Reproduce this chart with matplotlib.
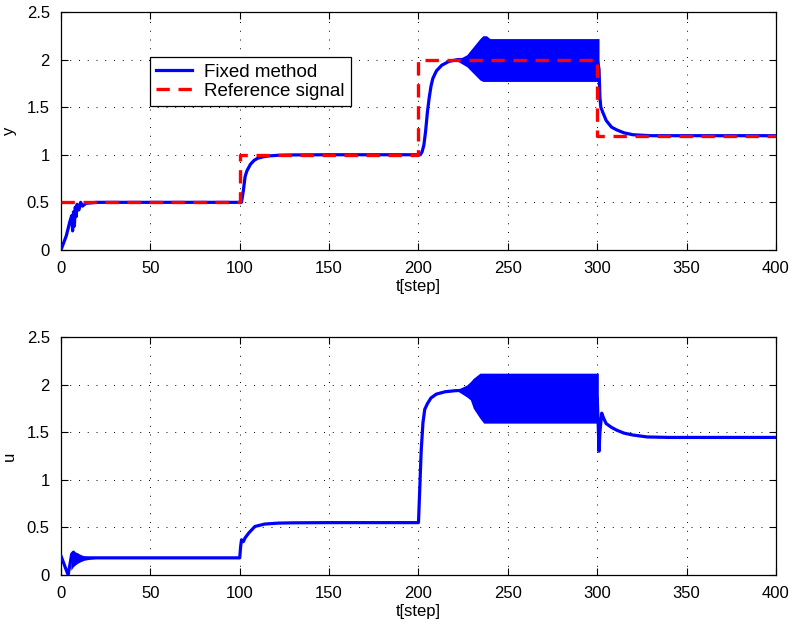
import numpy as np
import matplotlib
matplotlib.use("Agg")
import matplotlib.pyplot as plt

plt.rcParams['font.family'] = ['Liberation Sans', 'DejaVu Sans']

# reference signal (step changes)
ref_t = [0, 100, 100, 200, 200, 300, 300, 400]
ref_y = [0.5, 0.5, 1.0, 1.0, 2.0, 2.0, 1.2, 1.2]

# output y
y_t = [0, 3, 5, 6, 6.5, 7, 7.5, 8, 8.5, 9, 10, 11, 12, 14, 20, 101, 102, 103, 104, 106,
       108, 110, 113, 116, 122, 130, 150, 201, 202, 203, 204, 205, 206, 207, 208, 210,
       213, 217, 222, 226, 230, 300, 301, 301.5, 302, 303, 305, 308, 311, 315, 320, 330, 400]
y_v = [0, 0.15, 0.3, 0.36, 0.2, 0.4, 0.25, 0.45, 0.35, 0.48, 0.42, 0.5, 0.46, 0.49, 0.5, 0.5, 0.62,
       0.77, 0.83, 0.9, 0.94, 0.963, 0.978, 0.987, 0.995, 0.998, 1.0, 1.0, 1.03, 1.1, 1.25, 1.45,
       1.6, 1.72, 1.8, 1.88, 1.94, 1.98, 2.0, 2.0, 1.99, 2.0, 1.9, 1.6, 1.5, 1.45, 1.36, 1.29, 1.26,
       1.23, 1.21, 1.2, 1.2]

# envelope of the y oscillation band
yb_t = [222, 227, 230.7, 234.4, 236, 238, 240, 301]
yb_hi = [2.0, 2.05, 2.135, 2.22, 2.25, 2.25, 2.22, 2.22]
yb_lo = [1.98, 1.925, 1.855, 1.785, 1.77, 1.77, 1.77, 1.77]

# control input u
u_t = [0, 2, 4, 6, 7, 9, 12, 20, 100, 100.5, 101, 102, 103, 105, 108.5, 114, 121.6, 130, 150,
       200, 200.5, 201.5, 202.5, 203.5, 205, 207, 210, 215, 220, 225, 230, 235, 240, 300,
       300.5, 301, 301.5, 302.5, 303.5, 305, 308, 311, 315, 320, 328, 340, 400]
u_v = [0.2, 0.1, 0.0, 0.22, 0.24, 0.17, 0.18, 0.18, 0.18, 0.3, 0.37, 0.35, 0.39, 0.44, 0.51, 0.535,
       0.545, 0.548, 0.55, 0.55, 0.8, 1.3, 1.6, 1.74, 1.8, 1.86, 1.9, 1.925, 1.935, 1.94, 1.93,
       1.88, 1.86, 1.86, 1.6, 1.3, 1.5, 1.7, 1.65, 1.59, 1.55, 1.52, 1.49, 1.47, 1.45, 1.445, 1.445]

# envelopes of the u oscillation bands
ub0_t = [5.5, 7, 9, 11, 13, 16, 20]
ub0_hi = [0.2, 0.25, 0.235, 0.215, 0.2, 0.19, 0.18]
ub0_lo = [0.05, 0.09, 0.12, 0.14, 0.155, 0.165, 0.175]
ub_t = [222, 227, 229, 230.7, 234.4, 236.5, 300.6]
ub_hi = [1.95, 1.996, 2.03, 2.066, 2.12, 2.12, 2.12]
ub_lo = [1.93, 1.87, 1.84, 1.75, 1.645, 1.595, 1.595]

fig = plt.figure(figsize=(7.95, 6.28), dpi=100)
ax1 = fig.add_axes([0.0767, 0.602, 0.8994, 0.379])
ax2 = fig.add_axes([0.0767, 0.0844, 0.8994, 0.379])

blue = '#0000ff'
red = '#ff0000'

ax1.fill_between(yb_t, yb_lo, yb_hi, color=blue, lw=0, zorder=2)
ax1.plot(y_t, y_v, color=blue, lw=2.3, label='Fixed method', zorder=3)
ax1.plot(ref_t, ref_y, color=red, lw=2.4, dashes=(4.0, 2.6), label='Reference signal', zorder=4)

ax2.fill_between(ub0_t, ub0_lo, ub0_hi, color=blue, lw=0, zorder=2)
ax2.fill_between(ub_t, ub_lo, ub_hi, color=blue, lw=0, zorder=2)
ax2.plot(u_t, u_v, color=blue, lw=2.3, zorder=3)

for ax, lab in [(ax1, 'y'), (ax2, 'u')]:
    ax.set_xlim(0, 400)
    ax.set_ylim(0, 2.5)
    ax.set_xticks(np.arange(0, 401, 50))
    ax.set_yticks(np.arange(0, 2.51, 0.5))
    ax.set_yticklabels(['0', '0.5', '1', '1.5', '2', '2.5'])
    ax.grid(True, color='black', linestyle=(0, (1, 8)), linewidth=0.7)
    ax.tick_params(direction='in', top=True, right=True, length=5, labelsize=12, width=0.8, pad=8)
    for s in ax.spines.values():
        s.set_linewidth(0.9)
    ax.set_xlabel('t[step]', fontsize=12, labelpad=2)
    ax.set_ylabel(lab, fontsize=12, labelpad=7)

leg = ax1.legend(loc='upper left', bbox_to_anchor=(0.124, 0.811), fontsize=13.5,
                 frameon=True, fancybox=False, framealpha=1, edgecolor='black',
                 handlelength=1.9, handletextpad=0.65, borderpad=0.35, labelspacing=0.1,
                 borderaxespad=0)
leg.get_frame().set_linewidth(0.9)

fig.savefig('out.png', dpi=100)
